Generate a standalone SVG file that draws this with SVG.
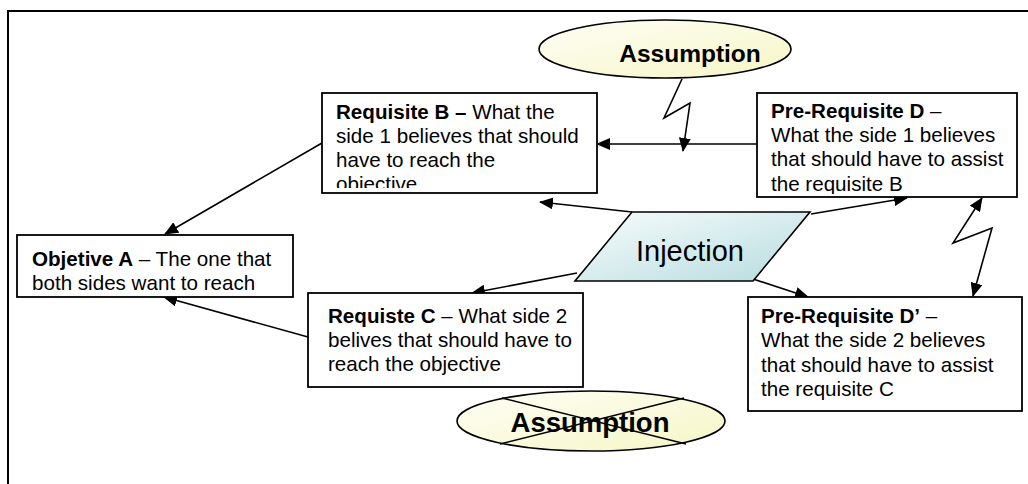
<svg xmlns="http://www.w3.org/2000/svg" width="1028" height="484" viewBox="0 0 1028 484">
  <style>
    .box { fill: #ffffff; stroke: #000000; stroke-width: 1.8; }
    .txt { font-family: "Liberation Sans", Arial, sans-serif; font-size: 20.6px; fill: #000000; }
    .b { font-weight: bold; }
    .big { font-family: "Liberation Sans", Arial, sans-serif; font-weight: bold; fill: #000000; }
    .link { fill: none; stroke: #000000; stroke-width: 1.6; }
    .frame { fill: none; stroke: #000000; stroke-width: 2; }
  </style>
  <defs>
    <marker id="arrow" viewBox="0 0 14 12" refX="13" refY="6" markerWidth="14" markerHeight="12" markerUnits="userSpaceOnUse" orient="auto">
      <path d="M0,0 L14,6 L0,12 Z" fill="#000000"/>
    </marker>
    <marker id="arrowStart" viewBox="0 0 14 12" refX="1" refY="6" markerWidth="14" markerHeight="12" markerUnits="userSpaceOnUse" orient="auto">
      <path d="M14,0 L0,6 L14,12 Z" fill="#000000"/>
    </marker>
    <linearGradient id="yellowFill" x1="0" y1="0" x2="1" y2="1">
      <stop offset="0" stop-color="#fefef6"/>
      <stop offset="1" stop-color="#f6f6c6"/>
    </linearGradient>
    <linearGradient id="cyanFill" x1="0" y1="0" x2="1" y2="1">
      <stop offset="0" stop-color="#f8fcfc"/>
      <stop offset="1" stop-color="#b6dcdf"/>
    </linearGradient>
    <clipPath id="clipB"><rect x="323" y="94" width="273" height="94"/></clipPath>
    <clipPath id="clipD"><rect x="758" y="94" width="258" height="100"/></clipPath>
  </defs>

  <!-- page frame -->
  <path class="frame" d="M8,484 L8,11 L1028,11"/>

  <!-- connectors -->
  <g id="connectors">
    <line class="link" x1="322" y1="143" x2="165" y2="234" marker-end="url(#arrow)"/>
    <line class="link" x1="308" y1="337" x2="164" y2="297" marker-end="url(#arrow)"/>
    <line class="link" x1="757" y1="144" x2="597" y2="144" marker-end="url(#arrow)"/>
    <polyline class="link" points="682,79 664,118 690,103 683,151" marker-end="url(#arrow)"/>
    <line class="link" x1="632" y1="212" x2="540" y2="202" marker-end="url(#arrow)"/>
    <line class="link" x1="811" y1="214" x2="907" y2="198" marker-end="url(#arrow)"/>
    <line class="link" x1="577" y1="273" x2="472" y2="293" marker-end="url(#arrow)"/>
    <line class="link" x1="753" y1="279" x2="808" y2="297" marker-end="url(#arrow)"/>
    <polyline class="link" points="982,198 953,243 992,228 973,296" marker-start="url(#arrowStart)" marker-end="url(#arrow)"/>
  </g>

  <!-- assumption (top) -->
  <g id="assumption-top">
    <ellipse cx="665" cy="49" rx="126" ry="29" fill="url(#yellowFill)" stroke="#000000" stroke-width="1.6"/>
    <text class="big" x="690" y="62" font-size="24.5" text-anchor="middle">Assumption</text>
  </g>

  <!-- requisite B -->
  <g id="requisite-b">
    <rect class="box" x="322" y="93" width="275" height="100"/>
    <g clip-path="url(#clipB)">
      <text class="txt" x="336" y="119"><tspan class="b">Requisite B –</tspan> What the</text>
      <text class="txt" x="336" y="143">side 1 believes that should</text>
      <text class="txt" x="336" y="167">have to reach the</text>
      <text class="txt" x="336" y="191">objective</text>
    </g>
  </g>

  <!-- pre-requisite D -->
  <g id="prerequisite-d">
    <rect class="box" x="757" y="93" width="260" height="104"/>
    <g clip-path="url(#clipD)">
      <text class="txt" x="771" y="118"><tspan class="b">Pre-Requisite D</tspan> –</text>
      <text class="txt" x="771" y="142">What the side 1 believes</text>
      <text class="txt" x="771" y="166">that should have to assist</text>
      <text class="txt" x="771" y="191">the requisite B</text>
    </g>
  </g>

  <!-- objective A -->
  <g id="objective-a">
    <rect class="box" x="17" y="235" width="276" height="62"/>
    <text class="txt" x="32" y="266"><tspan class="b">Objetive A</tspan> – The one that</text>
    <text class="txt" x="32" y="290">both sides want to reach</text>
  </g>

  <!-- injection -->
  <g id="injection">
    <polygon points="632,212 810,212 753,281 575,281" fill="url(#cyanFill)" stroke="#000000" stroke-width="1.6"/>
    <text x="690" y="261" font-family="'Liberation Sans', Arial, sans-serif" font-size="29" text-anchor="middle" fill="#000000">Injection</text>
  </g>

  <!-- requisite C -->
  <g id="requisite-c">
    <rect class="box" x="308" y="293" width="275" height="94"/>
    <text class="txt" x="328" y="323"><tspan class="b">Requiste C</tspan> – What side 2</text>
    <text class="txt" x="328" y="347">belives that should have to</text>
    <text class="txt" x="328" y="371">reach the objective</text>
  </g>

  <!-- pre-requisite D' -->
  <g id="prerequisite-d2">
    <rect class="box" x="748" y="297" width="274" height="114"/>
    <text class="txt" x="761" y="323"><tspan class="b">Pre-Requisite D’</tspan> –</text>
    <text class="txt" x="761" y="347">What the side 2 believes</text>
    <text class="txt" x="761" y="372">that should have to assist</text>
    <text class="txt" x="761" y="396">the requisite C</text>
  </g>

  <!-- assumption (bottom, crossed out) -->
  <g id="assumption-bottom">
    <ellipse cx="591" cy="421" rx="134" ry="30" fill="url(#yellowFill)" stroke="#000000" stroke-width="1.6"/>
    <text class="big" x="590" y="432" font-size="27.5" text-anchor="middle">Assumption</text>
    <line x1="502" y1="398" x2="686" y2="444" stroke="#000000" stroke-width="1.4"/>
    <line x1="684" y1="398" x2="500" y2="444" stroke="#000000" stroke-width="1.4"/>
  </g>
</svg>
